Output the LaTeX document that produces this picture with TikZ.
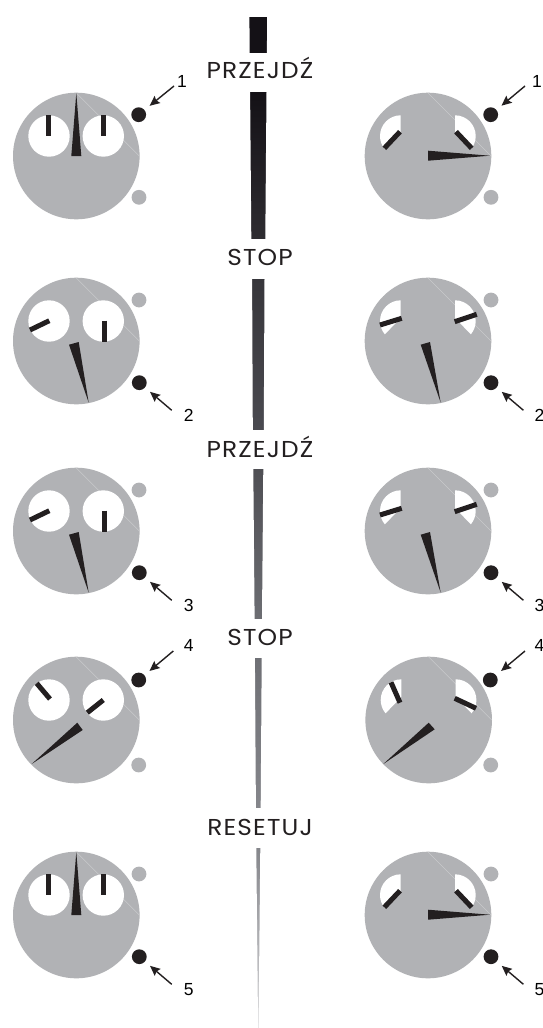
\documentclass[tikz,border=0pt]{standalone}
\usepackage{fontspec}
\setmainfont{Poppins}
\newfontfamily\cmdfont[FakeStretch=1.08,LetterSpace=5]{Poppins}
\newfontfamily\numfont{Liberation Sans}
\usetikzlibrary{arrows.meta}
\definecolor{dialgrey}{HTML}{B1B2B5}
\definecolor{chordgrey}{HTML}{C9CACC}
\definecolor{ink}{HTML}{231F20}
\definecolor{barA}{HTML}{141116}
\definecolor{barB}{HTML}{2E2C31}
\definecolor{barC}{HTML}{37363B}
\definecolor{barD}{HTML}{4A4A50}
\definecolor{barE}{HTML}{4F4F54}
\definecolor{barF}{HTML}{6C6D72}
\definecolor{barG}{HTML}{6F7075}
\definecolor{barH}{HTML}{85868B}
\definecolor{barI}{HTML}{D8D8DA}
\tikzset{
  x=1pt,y=-1pt,
  dotnode/.style={circle,inner sep=0pt,minimum size=14.8pt},
  blackdot/.style={dotnode,fill=ink},
  greydot/.style={dotnode,fill=dialgrey},
  cmd/.style={anchor=base,inner sep=0pt,text=ink,font=\cmdfont\fontsize{23}{23}\selectfont},
  num/.style={anchor=center,inner sep=0pt,text=black,font=\numfont\fontsize{17.5}{17.5}\selectfont},
  pointer/.style={draw=ink,line width=1.4pt,shorten >=6.5pt,-{Stealth[length=10pt,width=9pt,inset=1.5pt]}},
  hand/.style={draw=ink,line width=5pt},
  bigh/.style={fill=ink}
}
\newcommand{\fulldials}{%
  \fill[white] (-27.3,-20) circle[radius=20.7];
  \fill[white] (27,-20) circle[radius=20.7];}
\newcommand{\wedgedials}{%
  \fill[white] (-27.3,-23) -- (-27.3,-40.7) arc[start angle=-90,end angle=-220,radius=20.7] -- cycle;
  \fill[white] (27,-23) -- (27,-40.7) arc[start angle=-90,end angle=40,radius=20.7] -- cycle;}
% #1 cx, #2 cy, #3 sub-dials, #4 big-hand polygon, #5 left hand, #6 right hand
\newcommand{\clockface}[6]{%
  \begin{scope}[shift={(#1,#2)}]
    \fill[dialgrey] (0,0) circle[radius=63.3];
    \draw[chordgrey,line width=0.5pt] (0,-63) -- (63,0);
    #3
    \draw[hand] #5;
    \draw[hand] #6;
    \fill[bigh] #4 -- cycle;
  \end{scope}}
% #1 top y, #2 bottom y, #3 top half-width, #4 bottom half-width, #5 top colour, #6 bottom colour
\newcommand{\taperbar}[6]{%
  \shade[top color=#5,bottom color=#6] (258.3-#3-0.5,#1) rectangle (258.3+#3+0.5,#2);
  \fill[white] (258.3-#3-4,#1-3) -- (258.3-#3,#1-3) -- (258.3-#3,#1) -- (258.3-#4,#2) -- (258.3-#4,#2+3) -- (258.3-#3-4,#2+3) -- cycle;
  \fill[white] (258.3+#3+4,#1-3) -- (258.3+#3,#1-3) -- (258.3+#3,#1) -- (258.3+#4,#2) -- (258.3+#4,#2+3) -- (258.3+#3+4,#2+3) -- cycle;}
\begin{document}
\begin{tikzpicture}
\useasboundingbox (0,0) rectangle (542,1028);
\fill[white] (0,0) rectangle (542,1028);

% central tapering bar
\taperbar{17}{52}{8.9}{8.6}{barA}{barA}
\taperbar{92}{238}{8.2}{7.0}{barA}{barB}
\taperbar{279}{429}{6.2}{5.5}{barC}{barD}
\taperbar{469}{618}{5.0}{3.7}{barE}{barF}
\taperbar{658}{807.7}{3.4}{2.4}{barG}{barH}
\taperbar{848}{1028}{2.0}{0.25}{barH}{barI}

% commands
\node[cmd] (c1) at (260,78.3) {PRZEJDŹ};
\node[cmd] (c2) at (260,265.7) {STOP};
\node[cmd] (c3) at (260,457) {PRZEJDŹ};
\node[cmd] (c4) at (260,645.3) {STOP};
\node[cmd] (c5) at (260,835) {RESETUJ};

% left column
\clockface{76.3}{156}{\fulldials}{(-5,0) -- (5,0) -- (0,-63)}{(-27.6,-41) -- (-27.6,-20)}{(27,-41) -- (27,-20)}
\clockface{76.3}{341}{\fulldials}{(-7.3,3.7) -- (2.4,1) -- (12.4,61.7)}{(-27,-20.3) -- (-46.3,-11)}{(27.7,-20.3) -- (27.7,0.7)}
\clockface{76.3}{531}{\fulldials}{(-7.3,3.7) -- (2.4,1) -- (12.4,61.7)}{(-27,-20.3) -- (-46.3,-11)}{(27.7,-20.3) -- (27.7,0.7)}
\clockface{76.3}{720}{\fulldials}{(1,2.7) -- (6.4,10) -- (-44.6,44)}{(-26.3,-21) -- (-39.6,-36.7)}{(11,-7.3) -- (27,-20)}
\clockface{76.3}{915}{\fulldials}{(-5,0) -- (5,0) -- (0,-63)}{(-27.6,-41) -- (-27.6,-20)}{(27,-41) -- (27,-20)}

% right column
\clockface{428}{156}{\wedgedials}{(0,-5.3) -- (0,4.7) -- (62,-0.3)}{(-28,-24.3) -- (-43.7,-7.7)}{(28,-24.3) -- (43.7,-7.7)}
\clockface{428}{341}{\wedgedials}{(-7.3,3.7) -- (2,1) -- (12.7,61.7)}{(-48,-16) -- (-26.3,-22.7)}{(26.7,-19.3) -- (48.7,-26.7)}
\clockface{428}{531}{\wedgedials}{(-7.3,3.7) -- (2,1) -- (12.7,61.7)}{(-48,-16) -- (-26.3,-22.7)}{(26.7,-19.3) -- (48.7,-26.7)}
\clockface{428.7}{720}{\wedgedials}{(0,2.7) -- (6,9.3) -- (-45.4,44)}{(-28.7,-17.3) -- (-37.7,-37.7)}{(26,-21.7) -- (47.3,-11.7)}
\clockface{428}{915}{\wedgedials}{(0,-5.3) -- (0,4.7) -- (62,-0.3)}{(-28,-24.3) -- (-43.7,-7.7)}{(28,-24.3) -- (43.7,-7.7)}

% lamps
\node[blackdot] (lb1) at (138.7,114.7) {};
\node[greydot]  (lg1) at (139,197.3) {};
\node[blackdot] (lb2) at (139.3,382.7) {};
\node[greydot]  (lg2) at (139,300) {};
\node[blackdot] (lb3) at (139.3,572.7) {};
\node[greydot]  (lg3) at (139,490) {};
\node[blackdot] (lb4) at (138.7,680) {};
\node[greydot]  (lg4) at (138.7,765) {};
\node[blackdot] (lb5) at (139.3,956.7) {};
\node[greydot]  (lg5) at (139,874) {};
\node[blackdot] (rb1) at (490.7,114.7) {};
\node[greydot]  (rg1) at (491,197.3) {};
\node[blackdot] (rb2) at (491,382.7) {};
\node[greydot]  (rg2) at (491,300) {};
\node[blackdot] (rb3) at (491,572.7) {};
\node[greydot]  (rg3) at (491,490) {};
\node[blackdot] (rb4) at (490.3,680) {};
\node[greydot]  (rg4) at (490.7,765) {};
\node[blackdot] (rb5) at (491,956.7) {};
\node[greydot]  (rg5) at (491,874) {};

% numbers
\node[num] (ln1) at (182,81.7) {1};
\node[num] (ln2) at (188.7,415.7) {2};
\node[num] (ln3) at (188.7,605.7) {3};
\node[num] (ln4) at (188.7,645) {4};
\node[num] (ln5) at (188.7,989.7) {5};
\node[num] (rn1) at (537,81) {1};
\node[num] (rn2) at (539.5,415.7) {2};
\node[num] (rn3) at (539.5,605.7) {3};
\node[num] (rn4) at (539.5,645) {4};
\node[num] (rn5) at (539.5,989.7) {5};

% arrow tails
\coordinate (la1) at (174,86);
\coordinate (la2) at (171.7,410.3);
\coordinate (la3) at (171.7,600.3);
\coordinate (la4) at (173.3,651);
\coordinate (la5) at (171.7,984.3);
\coordinate (ra1) at (525,86);
\coordinate (ra2) at (523.4,410.3);
\coordinate (ra3) at (523.4,600.3);
\coordinate (ra4) at (525,651);
\coordinate (ra5) at (523.4,984.3);
% pointers
\draw[pointer] (la1) -- (lb1);
\draw[pointer] (la2) -- (lb2);
\draw[pointer] (la3) -- (lb3);
\draw[pointer] (la4) -- (lb4);
\draw[pointer] (la5) -- (lb5);
\draw[pointer] (ra1) -- (rb1);
\draw[pointer] (ra2) -- (rb2);
\draw[pointer] (ra3) -- (rb3);
\draw[pointer] (ra4) -- (rb4);
\draw[pointer] (ra5) -- (rb5);
\end{tikzpicture}
\end{document}
